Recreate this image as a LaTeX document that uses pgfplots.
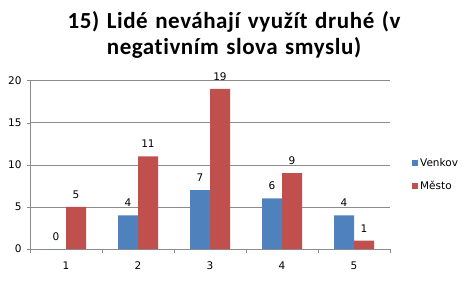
\documentclass[border=0pt]{standalone}
\usepackage{pgfplots}
\pgfplotsset{compat=1.18}
\usepackage{fontspec}
\setmainfont{DejaVu Sans}
\newfontfamily\titlefont[LetterSpace=2.5, WordSpace=1.3, Ligatures=CommonOff]{Carlito}
\definecolor{cblue}{HTML}{4F81BD}
\definecolor{cred}{HTML}{C0504D}
\definecolor{cgrid}{HTML}{8C8C8C}
\begin{document}
\begin{tikzpicture}
\path[use as bounding box] (-30pt,-32pt) rectangle (440pt,249pt);
\begin{axis}[
  scale only axis,
  width=360pt, height=168.5pt,
  ybar=0pt, bar width=20pt,
  xmin=0.5, xmax=5.5, ymin=0, ymax=20,
  xtick={1,2,3,4,5},
  major x tick style={draw=none},
  minor xtick={0.5,1.5,2.5,3.5,4.5,5.5},
  minor x tick style={draw=cgrid},
  minor tick length=4pt,
  ytick={0,5,10,15,20},
  ymajorgrids, major grid style={cgrid},
  y tick style={draw=cgrid}, major tick length=3pt,
  tick align=outside,
  axis x line*=bottom, axis y line*=left,
  axis line style={cgrid, -},
  tick label style={font=\fontsize{10.5}{12}\selectfont},
  xticklabel style={yshift=-6pt},
  yticklabel style={xshift=-2pt},
  /pgf/number format/assume math mode=true,
  nodes near coords,
  every node near coord/.append style={font=\fontsize{10.5}{12}\selectfont, yshift=5pt},
  legend style={draw=none, fill=none, at={(1.061,0.442)}, anchor=west,
    font=\fontsize{10.5}{12}\selectfont, row sep=9pt, inner sep=0pt,
    /tikz/every even column/.append style={column sep=2pt}},
  legend cell align=left,
  area legend,
  legend image code/.code={\fill[#1] (0pt,-3pt) rectangle (6pt,3pt);},
]
\addplot[fill=cblue, draw=none] coordinates {(1,0) (2,4) (3,7) (4,6) (5,4)};
\addplot[fill=cred, draw=none] coordinates {(1,5) (2,11) (3,19) (4,9) (5,1)};
\legend{Venkov, Město}
\end{axis}
\node[anchor=base, inner sep=0pt, font=\titlefont\bfseries\fontsize{23}{25}\selectfont] at (204pt,220pt) {15) Lidé neváhají využít druhé (v};
\node[anchor=base, inner sep=0pt, font=\titlefont\bfseries\fontsize{23}{25}\selectfont] at (204pt,194pt) {negativním slova smyslu)};
\end{tikzpicture}
\end{document}
